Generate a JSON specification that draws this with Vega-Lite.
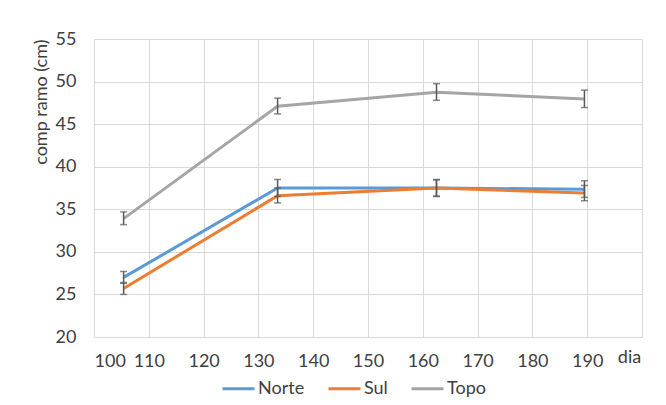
{
  "$schema": "https://vega.github.io/schema/vega-lite/v6.json",
  "width": 548,
  "height": 298,
  "autosize": {"type": "none"},
  "padding": {"left": 94, "top": 39, "right": 24, "bottom": 68},
  "background": "white",
  "config": {
    "font": "Lato",
    "view": {"stroke": null},
    "axis": {
      "grid": true,
      "gridColor": "#D9D9D9",
      "gridWidth": 1,
      "domain": false,
      "ticks": false,
      "labelFont": "Lato",
      "labelFontSize": 18,
      "labelColor": "#404040",
      "titleFont": "Lato",
      "titleFontSize": 18,
      "titleFontWeight": "normal",
      "titleColor": "#404040"
    }
  },
  "data": {
    "values": [
      {"dia": 105.4, "serie": "Norte", "comp": 27.0, "lo": 26.3, "hi": 27.7},
      {"dia": 133.5, "serie": "Norte", "comp": 37.5, "lo": 36.5, "hi": 38.5},
      {"dia": 162.5, "serie": "Norte", "comp": 37.5, "lo": 36.5, "hi": 38.5},
      {"dia": 189.5, "serie": "Norte", "comp": 37.35, "lo": 36.4, "hi": 38.35},
      {"dia": 105.4, "serie": "Sul", "comp": 25.7, "lo": 25.0, "hi": 26.4},
      {"dia": 133.5, "serie": "Sul", "comp": 36.6, "lo": 35.75, "hi": 37.5},
      {"dia": 162.5, "serie": "Sul", "comp": 37.5, "lo": 36.55, "hi": 38.45},
      {"dia": 189.5, "serie": "Sul", "comp": 36.9, "lo": 36.0, "hi": 37.8},
      {"dia": 105.4, "serie": "Topo", "comp": 33.9, "lo": 33.2, "hi": 34.7},
      {"dia": 133.5, "serie": "Topo", "comp": 47.1, "lo": 46.2, "hi": 48.05},
      {"dia": 162.5, "serie": "Topo", "comp": 48.75, "lo": 47.8, "hi": 49.75},
      {"dia": 189.5, "serie": "Topo", "comp": 47.95, "lo": 46.95, "hi": 49.0}
    ]
  },
  "layer": [
    {
      "mark": {"type": "line", "strokeWidth": 3},
      "encoding": {
        "x": {
          "field": "dia",
          "type": "quantitative",
          "scale": {"domain": [100, 200], "nice": false, "zero": false},
          "axis": {
            "values": [100, 110, 120, 130, 140, 150, 160, 170, 180, 190, 200],
            "labelExpr": "datum.value == 200 ? '' : datum.label",
            "labelPadding": 15,
            "labelBaseline": "top",
            "title": "dia",
            "titleX": 535,
            "titleY": 25,
            "titleBaseline": "alphabetic",
            "titleAlign": "center",
            "titleAnchor": null
          }
        },
        "y": {
          "field": "comp",
          "type": "quantitative",
          "scale": {"domain": [20, 55], "nice": false, "zero": false},
          "axis": {
            "values": [20, 25, 30, 35, 40, 45, 50, 55],
            "labelPadding": 18,
            "title": "comp ramo (cm)",
            "titleAngle": -90,
            "titleX": -44,
            "titleY": 0,
            "titleAlign": "right",
            "titleBaseline": "bottom",
            "titleAnchor": null
          }
        },
        "color": {
          "field": "serie",
          "type": "nominal",
          "scale": {"domain": ["Norte", "Sul", "Topo"], "range": ["#5B9BD5", "#ED7D31", "#A5A5A5"]},
          "legend": {
            "title": null,
            "orient": "none",
            "direction": "horizontal",
            "legendX": 127,
            "legendY": 332,
            "symbolType": "stroke",
            "symbolSize": 1024,
            "symbolStrokeWidth": 3,
            "labelFont": "Lato",
            "labelFontSize": 18,
            "labelColor": "#404040",
            "labelOffset": 2,
            "columnPadding": 17
          }
        }
      }
    },
    {
      "mark": {
        "type": "errorbar",
        "color": "#595959",
        "thickness": 1.5,
        "ticks": {"size": 7, "strokeWidth": 1.5, "color": "#595959"},
        "rule": {"strokeWidth": 1.5, "color": "#595959"}
      },
      "encoding": {
        "x": {"field": "dia", "type": "quantitative"},
        "y": {"field": "lo", "type": "quantitative", "title": "comp ramo (cm)"},
        "y2": {"field": "hi"},
        "detail": {"field": "serie", "type": "nominal"}
      }
    }
  ]
}
